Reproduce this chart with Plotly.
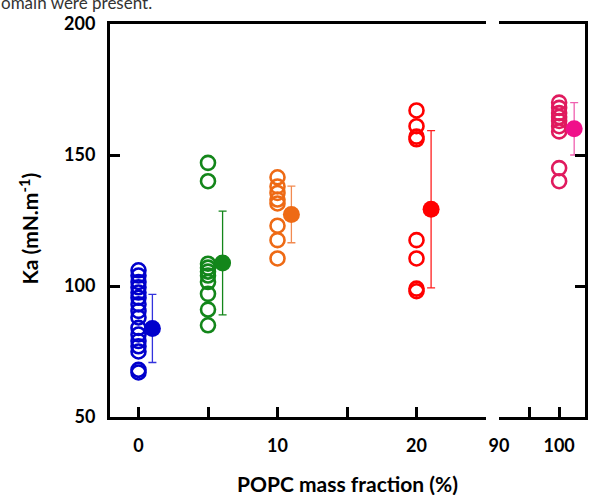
import plotly.graph_objects as go

# ---- data ----
groups = ["0", "5", "10", "20", "100"]
x_open = [0, 5, 10, 20, 100]
x_mean = [1.0, 6.05, 11.0, 21.05, 102.5]
ka_0 = [106, 104, 101.5, 99.5, 97.5, 95.5, 93, 90.5, 88, 84, 81.5, 79, 77, 75, 68, 67]
ka_5 = [147, 140, 108.5, 107, 105.5, 104, 101.5, 97, 91, 85]
ka_10 = [141.5, 138, 135.5, 133, 131.5, 123, 117.5, 110.5]
ka_20 = [167, 161, 157, 156, 117.5, 110.5, 99, 98]
ka_100 = [170, 168, 166, 164.5, 163, 161, 159, 145, 140]
ka_values = [ka_0, ka_5, ka_10, ka_20, ka_100]
ka_mean = [83.8, 108.8, 127.3, 129.3, 160.0]
ka_sd = [13.0, 19.8, 10.8, 30.0, 10.0]

left_major = [0, 10, 20]
left_minor = [5, 15, 25]
right_major = [90, 100]
right_minor = [95]
y_ticks = [50, 100, 150, 200]

open_colors = ["#0000CC", "#13861A", "#EE6A15", "#FF0000", "#E01A5E"]
mean_colors = ["#0000CC", "#13861A", "#EE6A15", "#FF0000", "#F0108A"]
err_colors = ["#3333DD", "#13861A", "#F28A50", "#FF2020", "#F060B0"]

fig = go.Figure()
for i, g in enumerate(groups):
    right = x_open[i] >= 90
    xa, ya = ("x2", "y2") if right else ("x", "y")
    fig.add_trace(go.Scatter(
        x=[x_open[i]] * len(ka_values[i]), y=ka_values[i], mode="markers",
        xaxis=xa, yaxis=ya, showlegend=False, cliponaxis=False,
        marker=dict(symbol="circle-open", size=14, color=open_colors[i],
                    line=dict(width=2.6, color=open_colors[i]))))
    fig.add_trace(go.Scatter(
        x=[x_mean[i]], y=[ka_mean[i]], mode="markers",
        xaxis=xa, yaxis=ya, showlegend=False, cliponaxis=False,
        marker=dict(symbol="circle", size=17, color=mean_colors[i]),
        error_y=dict(type="data", array=[ka_sd[i]], color=err_colors[i],
                     thickness=1.3, width=4)))

tickfont = dict(family="Lato", size=18, color="black", weight="bold")
axis_common = dict(showgrid=False, zeroline=False, linecolor="black",
                   linewidth=3, ticks="inside", ticklen=10, tickwidth=3,
                   tickcolor="black", tickfont=tickfont)
minor_common = dict(ticks="inside", ticklen=10, tickwidth=3, tickcolor="black",
                    showgrid=False)

fig.update_layout(
    width=589, height=495,
    margin=dict(l=110, r=4, t=24, b=78),
    paper_bgcolor="white", plot_bgcolor="white",
    xaxis=dict(domain=[0, 0.7916], range=[-2.05, 25], tickvals=left_major,
               minor=dict(tickvals=left_minor, **minor_common), mirror=True,
               ticklabelstandoff=10, anchor="y", **axis_common),
    xaxis2=dict(domain=[0.819, 1], range=[90, 104.3], tickvals=right_major,
                minor=dict(tickvals=right_minor, **minor_common), mirror=True,
                ticklabelstandoff=10, anchor="y2", **axis_common),
    yaxis=dict(range=[50, 200], tickvals=y_ticks, anchor="x",
               ticklabelstandoff=8, **axis_common),
    yaxis2=dict(range=[50, 200], tickvals=y_ticks, anchor="x2",
                side="right", showticklabels=False, **axis_common),
    annotations=[
        dict(text="<b>POPC mass fraction (%)</b>", xref="paper", yref="paper",
             x=0.5, y=0, yshift=-66, xanchor="center", yanchor="middle", showarrow=False,
             font=dict(family="Lato", size=21, color="black")),
        dict(text="<b>Ka (mN.m<sup>-1</sup>)</b>", xref="paper", yref="paper",
             x=0, xshift=-82, y=0.5, yshift=-8, textangle=-90, xanchor="center",
             yanchor="middle", showarrow=False,
             font=dict(family="Lato", size=21, color="black")),
        dict(text="omain were present.", xref="paper", yref="paper",
             x=0, xshift=-111, y=1, yshift=34, xanchor="left", yanchor="top",
             showarrow=False, font=dict(family="Lato", size=17, color="#333333")),
    ],
)

fig.write_html("out.html", config={"displayModeBar": False},
               post_script="document.body.style.margin='0';document.body.style.padding='0';")
